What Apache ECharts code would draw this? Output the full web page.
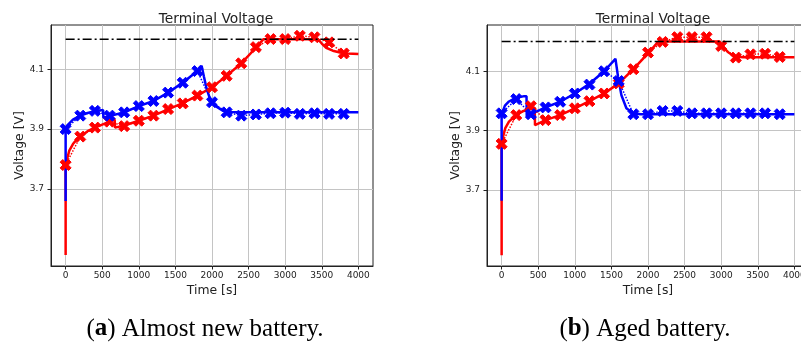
<!DOCTYPE html>
<html>
<head>
<meta charset="utf-8">
<script src="https://cdn.jsdelivr.net/npm/echarts@6/dist/echarts.min.js"></script>
<style>
  html, body { margin: 0; padding: 0; background: #fff; }
  #main { width: 801px; height: 344px; }
</style>
</head>
<body>
<div id="main"></div>
<script>
// measured samples (every 200 s)
var timeMarks = [0, 200, 400, 600, 800, 1000, 1200, 1400, 1600, 1800, 2000, 2200, 2400, 2600, 2800, 3000, 3200, 3400, 3600, 3800];
var redMeasNew  = [3.780, 3.875, 3.905, 3.925, 3.910, 3.928, 3.945, 3.967, 3.986, 4.012, 4.040, 4.078, 4.120, 4.174, 4.201, 4.201, 4.212, 4.207, 4.190, 4.153];
var blueMeasNew = [3.900, 3.945, 3.961, 3.945, 3.956, 3.977, 3.994, 4.022, 4.055, 4.094, 3.990, 3.956, 3.945, 3.949, 3.953, 3.955, 3.951, 3.953, 3.951, 3.951];
var redMeasAged  = [3.855, 3.952, 3.982, 3.935, 3.952, 3.975, 3.999, 4.025, 4.059, 4.107, 4.163, 4.199, 4.215, 4.215, 4.215, 4.185, 4.146, 4.157, 4.159, 4.148];
var blueMeasAged = [3.958, 4.006, 3.955, 3.978, 3.997, 4.025, 4.055, 4.100, 4.067, 3.955, 3.955, 3.966, 3.966, 3.958, 3.958, 3.958, 3.958, 3.958, 3.958, 3.955];

// model curves [time, voltage]
var redModelNew = [[0, 3.479], [0, 3.780], [20, 3.800], [50, 3.828], [100, 3.850], [150, 3.865], [200, 3.875], [300, 3.893],
  [400, 3.905], [500, 3.915], [600, 3.925], [670, 3.932], [675, 3.905], [700, 3.907], [800, 3.912], [1000, 3.928],
  [1200, 3.945], [1400, 3.966], [1600, 3.987], [1800, 4.012], [2000, 4.040], [2200, 4.078], [2400, 4.120],
  [2600, 4.172], [2700, 4.200], [3450, 4.200], [3500, 4.186], [3560, 4.172], [3650, 4.162], [3750, 4.156], [3850, 4.153], [4000, 4.151]];
var blueModelNew = [[0, 3.660], [0, 3.900], [20, 3.912], [60, 3.922], [100, 3.932], [200, 3.945], [300, 3.954], [400, 3.960],
  [512, 3.964], [516, 3.938], [600, 3.944], [800, 3.956], [1000, 3.977], [1200, 3.994], [1400, 4.022], [1600, 4.055],
  [1800, 4.094], [1858, 4.112], [1890, 4.075], [1926, 4.036], [1960, 4.010], [2008, 3.990], [2060, 3.975], [2153, 3.961],
  [2250, 3.957], [2400, 3.956], [4000, 3.956]];
var redModelAged = [[0, 3.479], [0, 3.850], [20, 3.880], [50, 3.908], [100, 3.930], [200, 3.953], [300, 3.966], [452, 3.977],
  [456, 3.918], [600, 3.935], [800, 3.952], [1000, 3.975], [1200, 3.999], [1400, 4.025], [1600, 4.059], [1800, 4.107],
  [2000, 4.160], [2140, 4.200], [2978, 4.200], [3030, 4.182], [3090, 4.165], [3183, 4.150], [3300, 4.147], [4000, 4.147]];
var blueModelAged = [[0, 3.663], [0, 3.950], [20, 3.968], [45, 3.984], [100, 3.998], [191, 4.010], [308, 4.016], [340, 4.016],
  [343, 3.950], [400, 3.955], [600, 3.978], [800, 3.997], [1000, 4.025], [1200, 4.058], [1400, 4.100], [1555, 4.142],
  [1591, 4.081], [1637, 4.019], [1705, 3.975], [1795, 3.958], [1900, 3.955], [4000, 3.955]];

var refVoltage = 4.2;
var refSpan = [0, 4000];
var xTicks = [0, 500, 1000, 1500, 2000, 2500, 3000, 3500, 4000];
var yTicks = [3.7, 3.9, 4.1];
var titles = ['Terminal Voltage', 'Terminal Voltage'];
var captions = [['a', ') Almost new battery.'], ['b', ') Aged battery.']];

var chart = echarts.init(document.getElementById('main'), null, { renderer: 'canvas' });

// filled "X" marker like matplotlib's 'X'
var xMark = 'path://M0,2.4 L2.4,0 L5,2.6 L7.6,0 L10,2.4 L7.4,5 L10,7.6 L7.6,10 L5,7.4 L2.4,10 L0,7.6 L2.6,5 Z';
var RED = '#ff0000', BLUE = '#0000ff';
var tickFont = { color: '#222', fontSize: 9, fontFamily: 'DejaVu Sans' };

function pairs(ts, vs) {
    return ts.map(function (t, i) { return [t, vs[i]]; });
}

function makeX(idx) {
    return {
        type: 'value', gridIndex: idx, min: -200, max: 4200,
        name: 'Time [s]', nameLocation: 'middle', nameGap: 17,
        nameTextStyle: { color: '#222', fontSize: 12.4, fontFamily: 'DejaVu Sans' },
        axisLine: { show: true, onZero: false, lineStyle: { color: '#222', width: 1 } },
        axisTick: { show: true, length: 3.5, customValues: xTicks, lineStyle: { color: '#222' } },
        axisLabel: Object.assign({ margin: 5, customValues: xTicks, formatter: function (v) { return String(v); } }, tickFont),
        splitLine: { show: true, lineStyle: { color: '#c4c4c4', width: 1 } }
    };
}

function makeY(idx, lo, hi) {
    return {
        type: 'value', gridIndex: idx, min: lo, max: hi,
        name: 'Voltage [V]', nameLocation: 'middle', nameGap: 24,
        nameTextStyle: { color: '#222', fontSize: 12.4, fontFamily: 'DejaVu Sans' },
        axisLine: { show: true, onZero: false, lineStyle: { color: '#222', width: 1 } },
        axisTick: { show: true, length: 3.5, customValues: yTicks, lineStyle: { color: '#222' } },
        axisLabel: Object.assign({ margin: 7, customValues: yTicks }, tickFont),
        splitLine: { show: true, lineStyle: { color: '#c4c4c4', width: 1 } }
    };
}

function modelSeries(idx, data, color) {
    return {
        type: 'line', xAxisIndex: idx, yAxisIndex: idx, data: data,
        symbol: 'none', lineStyle: { color: color, width: 2.5 }, z: 3
    };
}

function measSeries(idx, vals, color) {
    return {
        type: 'line', xAxisIndex: idx, yAxisIndex: idx, data: pairs(timeMarks, vals),
        symbol: xMark, symbolSize: 11, showAllSymbol: true,
        itemStyle: { color: color, borderColor: color, borderWidth: 1 },
        lineStyle: { color: color, width: 1.5, type: 'dotted' }, z: 4
    };
}

function refSeries(idx) {
    return {
        type: 'line', xAxisIndex: idx, yAxisIndex: idx,
        data: [[refSpan[0], refVoltage], [refSpan[1], refVoltage]],
        symbol: 'none', lineStyle: { color: '#000', width: 1.5, type: [9, 3, 2, 3] }, z: 5
    };
}

var option = {
    animation: false,
    backgroundColor: '#fff',
    title: [
        { text: titles[0], left: 211, top: 7, textAlign: 'center',
          textStyle: { fontSize: 13.8, fontWeight: 'normal', color: '#222', fontFamily: 'DejaVu Sans' } },
        { text: titles[1], left: 648, top: 7, textAlign: 'center',
          textStyle: { fontSize: 13.8, fontWeight: 'normal', color: '#222', fontFamily: 'DejaVu Sans' } }
    ],
    grid: [
        { left: 51, top: 25, width: 322, height: 241, show: true, borderColor: '#222', borderWidth: 1, outerBoundsMode: 'none' },
        { left: 487, top: 25, width: 322, height: 241, show: true, borderColor: '#222', borderWidth: 1, outerBoundsMode: 'none' }
    ],
    xAxis: [makeX(0), makeX(1)],
    yAxis: [makeY(0, 3.4425, 4.248), makeY(1, 3.443, 4.256)],
    series: [
        modelSeries(0, redModelNew, RED),
        measSeries(0, redMeasNew, RED),
        modelSeries(0, blueModelNew, BLUE),
        measSeries(0, blueMeasNew, BLUE),
        refSeries(0),
        modelSeries(1, redModelAged, RED),
        measSeries(1, redMeasAged, RED),
        modelSeries(1, blueModelAged, BLUE),
        measSeries(1, blueMeasAged, BLUE),
        refSeries(1)
    ],
    graphic: captions.map(function (c, i) {
        return {
            type: 'text', x: i === 0 ? 205 : 645, y: 329,
            style: {
                text: '({b|' + c[0] + '}' + c[1],
                fill: '#000', font: '25px "Liberation Serif", serif',
                align: 'center', verticalAlign: 'middle',
                rich: { b: { fontWeight: 'bold', fontSize: 25, fontFamily: 'Liberation Serif' } }
            }
        };
    })
};

chart.setOption(option);
window.onresize = function () { chart.resize(); };
</script>
</body>
</html>
